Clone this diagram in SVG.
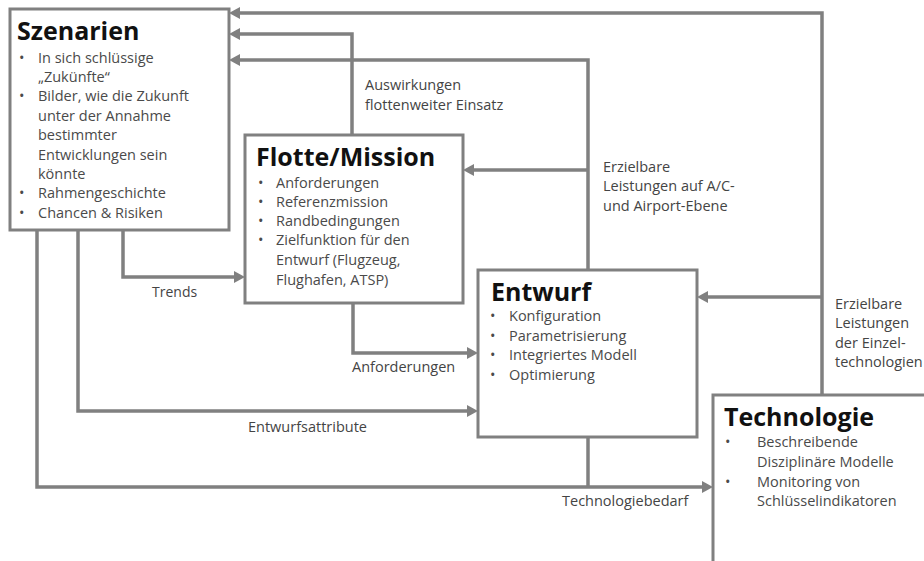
<svg xmlns="http://www.w3.org/2000/svg" width="924" height="561" viewBox="0 0 924 561">
  <style>
    .box { fill: #ffffff; stroke: #808080; stroke-width: 3; }
    .title { font-family: "Open Sans", "Liberation Sans", sans-serif; font-weight: bold; font-size: 25px; fill: #111111; }
    .item { font-family: "Open Sans", "Liberation Sans", sans-serif; font-size: 14.5px; fill: #4a4a4a; }
    .label { font-family: "Open Sans", "Liberation Sans", sans-serif; font-size: 14.5px; fill: #444444; }
    .wire { fill: none; stroke: #808080; stroke-width: 3.5; stroke-linejoin: miter; }
    .arrow { marker-end: url(#head); }
  </style>
  <defs>
    <marker id="head" markerUnits="userSpaceOnUse" markerWidth="12" markerHeight="12" refX="4" refY="6" orient="auto">
      <path d="M0,0 L11,6 L0,12 z" fill="#808080"/>
    </marker>
  </defs>
  <rect width="924" height="561" fill="#ffffff"/>

  <!-- connectors -->
  <g id="connectors">
    <!-- Technologie -> Szenarien / Entwurf -->
    <path class="wire arrow" d="M822,395 V13 H236"/>
    <path class="wire arrow" d="M822,297 H704"/>
    <!-- Entwurf -> Szenarien / Flotte -->
    <path class="wire arrow" d="M588,270 V60 H236"/>
    <path class="wire arrow" d="M588,170 H470"/>
    <!-- Flotte -> Szenarien -->
    <path class="wire arrow" d="M352,135 V34 H236"/>
    <!-- Szenarien -> Flotte (Trends) -->
    <path class="wire arrow" d="M123,230 V277 H238"/>
    <!-- Flotte -> Entwurf (Anforderungen) -->
    <path class="wire arrow" d="M353,303 V353 H471"/>
    <!-- Szenarien -> Entwurf (Entwurfsattribute) -->
    <path class="wire arrow" d="M78,230 V411 H471"/>
    <!-- Szenarien / Entwurf -> Technologie (Technologiebedarf) -->
    <path class="wire arrow" d="M37,230 V487 H706"/>
    <path class="wire" d="M588,437 V487"/>

    <text class="label" x="365" y="90">Auswirkungen</text>
    <text class="label" x="365" y="110">flottenweiter Einsatz</text>
    <text class="label" x="603" y="172">Erzielbare</text>
    <text class="label" x="603" y="191">Leistungen auf A/C-</text>
    <text class="label" x="603" y="211">und Airport-Ebene</text>
    <text class="label" x="835" y="309">Erzielbare</text>
    <text class="label" x="835" y="328">Leistungen</text>
    <text class="label" x="835" y="348">der Einzel-</text>
    <text class="label" x="835" y="367">technologien</text>
    <text class="label" x="152" y="297" style="font-size:14px">Trends</text>
    <text class="label" x="352" y="372">Anforderungen</text>
    <text class="label" x="248" y="432">Entwurfsattribute</text>
    <text class="label" x="562" y="506">Technologiebedarf</text>
  </g>

  <!-- Szenarien -->
  <g id="szenarien">
    <rect class="box" x="10" y="9" width="219" height="221"/>
    <text class="title" x="17" y="40">Szenarien</text>
    <g class="item">
      <text x="19" y="63">•</text><text x="38" y="63">In sich schlüssige</text>
      <text x="38" y="82">„Zukünfte“</text>
      <text x="19" y="101">•</text><text x="38" y="101">Bilder, wie die Zukunft</text>
      <text x="38" y="121">unter der Annahme</text>
      <text x="38" y="140">bestimmter</text>
      <text x="38" y="160">Entwicklungen sein</text>
      <text x="38" y="179">könnte</text>
      <text x="19" y="198">•</text><text x="38" y="198">Rahmengeschichte</text>
      <text x="19" y="218">•</text><text x="38" y="218">Chancen &amp; Risiken</text>
    </g>
  </g>

  <!-- Flotte/Mission -->
  <g id="flotte">
    <rect class="box" x="245" y="135" width="218" height="168"/>
    <text class="title" x="256" y="166">Flotte/Mission</text>
    <g class="item">
      <text x="258" y="188">•</text><text x="276" y="188">Anforderungen</text>
      <text x="258" y="207">•</text><text x="276" y="207">Referenzmission</text>
      <text x="258" y="226">•</text><text x="276" y="226">Randbedingungen</text>
      <text x="258" y="245">•</text><text x="276" y="245">Zielfunktion für den</text>
      <text x="276" y="265">Entwurf (Flugzeug,</text>
      <text x="276" y="285">Flughafen, ATSP)</text>
    </g>
  </g>

  <!-- Entwurf -->
  <g id="entwurf">
    <rect class="box" x="478" y="270" width="219" height="167"/>
    <text class="title" x="491" y="301">Entwurf</text>
    <g class="item">
      <text x="490" y="321">•</text><text x="509" y="321">Konfiguration</text>
      <text x="490" y="341">•</text><text x="509" y="341">Parametrisierung</text>
      <text x="490" y="360">•</text><text x="509" y="360">Integriertes Modell</text>
      <text x="490" y="380">•</text><text x="509" y="380">Optimierung</text>
    </g>
  </g>

  <!-- Technologie -->
  <g id="technologie">
    <rect class="box" x="713" y="395" width="230" height="190"/>
    <text class="title" x="724" y="426">Technologie</text>
    <g class="item">
      <text x="725" y="447">•</text><text x="757" y="447">Beschreibende</text>
      <text x="757" y="467">Disziplinäre Modelle</text>
      <text x="725" y="487">•</text><text x="757" y="487">Monitoring von</text>
      <text x="757" y="506">Schlüsselindikatoren</text>
    </g>
  </g>
</svg>
